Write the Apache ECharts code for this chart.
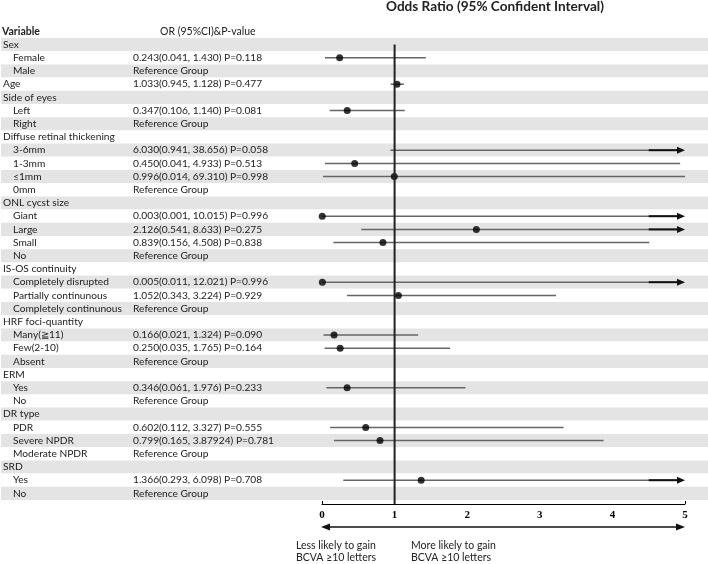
<!DOCTYPE html>
<html><head><meta charset="utf-8">
<script src="https://cdn.jsdelivr.net/npm/echarts@6/dist/echarts.min.js"></script>
<style>html,body{margin:0;padding:0;background:#fff}#c{width:708px;height:564px}</style>
</head><body><div id="c"></div>
<script>
// ---- data ----
const variables = ['Sex','Female','Male','Age','Side of eyes','Left','Right','Diffuse retinal thickening','3-6mm','1-3mm','≤1mm','0mm','ONL cycst size','Giant','Large','Small','No','IS-OS continuity','Completely disrupted','Partially continunous','Completely continunous','HRF foci-quantity','Many(≧11)','Few(2-10)','Absent','ERM','Yes','No','DR type','PDR','Severe NPDR','Moderate NPDR','SRD','Yes','No'];
const isHeader = [1,0,0,1,1,0,0,1,0,0,0,0,1,0,0,0,0,1,0,0,0,1,0,0,0,1,0,0,1,0,0,0,1,0,0];
const orText = ['', '0.243(0.041, 1.430) P=0.118', 'Reference Group', '1.033(0.945, 1.128) P=0.477', '', '0.347(0.106, 1.140) P=0.081', 'Reference Group', '', '6.030(0.941, 38.656) P=0.058', '0.450(0.041, 4.933) P=0.513', '0.996(0.014, 69.310) P=0.998', 'Reference Group', '', '0.003(0.001, 10.015) P=0.996', '2.126(0.541, 8.633) P=0.275', '0.839(0.156, 4.508) P=0.838', 'Reference Group', '', '0.005(0.011, 12.021) P=0.996', '1.052(0.343, 3.224) P=0.929', 'Reference Group', '', '0.166(0.021, 1.324) P=0.090', '0.250(0.035, 1.765) P=0.164', 'Reference Group', '', '0.346(0.061, 1.976) P=0.233', 'Reference Group', '', '0.602(0.112, 3.327) P=0.555', '0.799(0.165, 3.87924) P=0.781', 'Reference Group', '', '1.366(0.293, 6.098) P=0.708', 'Reference Group'];
const oddsRatio = [null,0.243,null,1.033,null,0.347,null,null,6.030,0.450,0.996,null,null,0.003,2.126,0.839,null,null,0.005,1.052,null,null,0.166,0.250,null,null,0.346,null,null,0.602,0.799,null,null,1.366,null];
const ciLow = [null,0.041,null,0.945,null,0.106,null,null,0.941,0.041,0.014,null,null,0.001,0.541,0.156,null,null,0.011,0.343,null,null,0.021,0.035,null,null,0.061,null,null,0.112,0.165,null,null,0.293,null];
const ciHigh = [null,1.430,null,1.128,null,1.140,null,null,38.656,4.933,69.310,null,null,10.015,8.633,4.508,null,null,12.021,3.224,null,null,1.324,1.765,null,null,1.976,null,null,3.327,3.87924,null,null,6.098,null];
const arrowRows = [8,13,14,18,33];
const xTicks = [0,1,2,3,4,5];
const title = 'Odds Ratio (95% Confident Interval)';
const colHeaders = ['Variable','OR (95%CI)&P-value'];
const lessText = ['Less likely to gain','BCVA ≥10 letters'];
const moreText = ['More likely to gain','BCVA ≥10 letters'];

// ---- build ----
const FONT = 'Lato';
const FS = 10.2;
const TXT = '#222';
const rowIdx = variables.map((_, i) => String(i));
const xMax = xTicks[xTicks.length - 1];
const axisOffset = 4;
const gridTop = 38, gridH = 462;

const ciData = [];
const ptData = [];
variables.forEach((v, i) => {
  if (ciLow[i] != null) ciData.push([i, ciLow[i], ciHigh[i], arrowRows.indexOf(i) >= 0 ? 1 : 0]);
  if (oddsRatio[i] != null && oddsRatio[i] <= xMax) ptData.push([oddsRatio[i], i]);
});

const hiddenX = (gi) => ({type:'value', gridIndex: gi, show:false, min:0, max:1});
const catY = (gi, extra) => Object.assign({
  type:'category', gridIndex: gi, data: rowIdx, inverse: true, boundaryGap: true,
  axisLine:{show:false}, axisTick:{show:false}, splitLine:{show:false}
}, extra);

const chart = echarts.init(document.getElementById('c'), null, {renderer:'canvas'});
chart.setOption({
  animation: false,
  backgroundColor: '#fff',
  textStyle: {fontFamily: FONT},
  title: [
    {text: title, left: 386, top: 0, padding: 0, textStyle:{fontFamily: FONT, fontSize: 13.6, fontWeight: 'bold', color: TXT}},
    {text: colHeaders[0], left: 2, top: 26, padding: 0, textStyle:{fontFamily: FONT, fontSize: 10.5, fontWeight: 'bold', color: TXT}},
    {text: colHeaders[1], left: 160, top: 26, padding: 0, textStyle:{fontFamily: FONT, fontSize: 10.5, fontWeight: 'normal', color: TXT}}
  ],
  grid: [
    {left: 0, right: 0, top: gridTop, height: gridH},
    {left: 133, width: 180, top: gridTop, height: gridH},
    {left: 322, right: 23, top: gridTop, height: gridH}
  ],
  xAxis: [
    hiddenX(0), hiddenX(1),
    {type:'value', gridIndex: 2, min: 0, max: xMax, interval: 1, offset: axisOffset,
     axisLine:{show:true, lineStyle:{color:'#000', width:1}},
     axisTick:{show:true, inside:true, length:3, customValues:[xTicks[0], xMax], lineStyle:{color:'#000'}},
     axisLabel:{show:true, margin:6, fontFamily:'Liberation Serif', fontWeight:'bold', fontSize:11, color:'#000'},
     splitLine:{show:false}}
  ],
  yAxis: [
    catY(0, {
      splitArea:{show:true, interval:0, areaStyle:{color:['#e4e4e4','#ffffff']}},
      axisLabel:{show:true, inside:true, interval:0, margin:2, align:'left',
        formatter: (v, i) => (isHeader[i] ? '{h|' : '{s|') + variables[i] + '}',
        rich:{h:{fontFamily:FONT, fontSize:FS, color:TXT}, s:{fontFamily:FONT, fontSize:FS, color:TXT, padding:[0,0,0,10]}}}
    }),
    catY(1, {axisLabel:{show:true, inside:true, interval:0, margin:0, align:'left', fontFamily:FONT, fontSize:FS, color:TXT,
      formatter: (v, i) => orText[i]}}),
    catY(2, {axisLabel:{show:false}})
  ],
  graphic: [
    {type:'text', left: 296, top: 539, style:{text: lessText.join('\n'), font:'10.5px Lato', fill: TXT, lineHeight: 12.5}},
    {type:'text', left: 411, top: 539, style:{text: moreText.join('\n'), font:'10.5px Lato', fill: TXT, lineHeight: 12.5}}
  ],
  series: [
    {
      type:'custom', xAxisIndex:2, yAxisIndex:2, data: ciData, encode:{x:[1,2], y:0}, z: 2,
      renderItem: function(params, api) {
        const row = api.value(0), lo = api.value(1), hi = api.value(2), arrow = api.value(3);
        const y = api.coord([0, row])[1];
        const x1 = api.coord([Math.max(lo, 0), row])[0];
        const x2 = api.coord([Math.min(hi, xMax), row])[0];
        const kids = [{type:'line', shape:{x1:x1, y1:y, x2: arrow ? x2 - 6 : x2, y2:y}, style:{stroke:'#666', lineWidth:1.5}}];
        if (arrow) {
          const xa = api.coord([xMax - 0.5, row])[0];
          kids.push({type:'line', shape:{x1:xa, y1:y, x2:x2 - 6, y2:y}, style:{stroke:'#111', lineWidth:2}});
          kids.push({type:'polygon', shape:{points:[[x2, y],[x2 - 8, y - 3.5],[x2 - 8, y + 3.5]]}, style:{fill:'#111'}});
        }
        return {type:'group', children: kids};
      }
    },
    {
      type:'scatter', xAxisIndex:2, yAxisIndex:2, data: ptData, symbol:'circle', symbolSize:7,
      itemStyle:{color:'#000'}, z: 3, clip: false
    },
    {
      type:'custom', xAxisIndex:2, yAxisIndex:2, data:[[1, 0]], encode:{x:0, y:1}, z: 4,
      renderItem: function(params, api) {
        const p = api.coord([1, 0]);
        const cs = params.coordSys;
        const yBot = cs.y + cs.height + axisOffset;
        const x0 = api.coord([0, 0])[0], x5 = api.coord([xMax, 0])[0];
        const ya = yBot + 23;
        return {type:'group', children:[
          {type:'line', shape:{x1:p[0], y1:p[1], x2:p[0], y2:yBot}, style:{stroke:'#222', lineWidth:2}},
          {type:'line', shape:{x1:x0 + 6, y1:ya, x2:x5 - 6, y2:ya}, style:{stroke:'#111', lineWidth:1.5}},
          {type:'polygon', shape:{points:[[x0 - 1, ya],[x0 + 8, ya - 3.5],[x0 + 8, ya + 3.5]]}, style:{fill:'#111'}},
          {type:'polygon', shape:{points:[[x5, ya],[x5 - 9, ya - 3.5],[x5 - 9, ya + 3.5]]}, style:{fill:'#111'}}
        ]};
      }
    }
  ]
});
</script>
</body></html>
